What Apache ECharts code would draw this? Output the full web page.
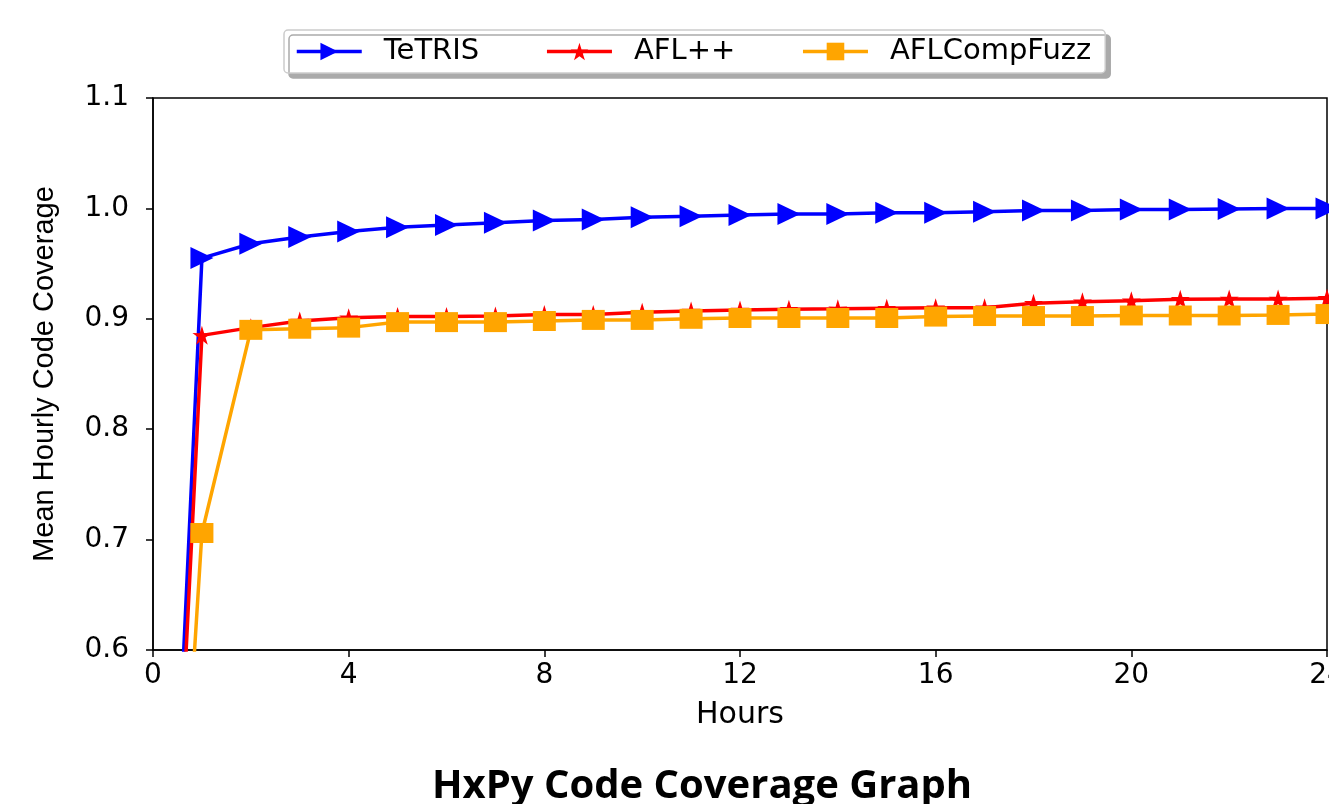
<!DOCTYPE html>
<html>
<head>
<meta charset="utf-8">
<script src="https://cdn.jsdelivr.net/npm/echarts@6/dist/echarts.min.js"></script>
<style>
    html, body { margin: 0; padding: 0; background: #fff; }
    #main { width: 1329px; height: 804px; }
</style>
</head>
<body>
<div id="main"></div>
<script>
// data
var hours = [0, 1, 2, 3, 4, 5, 6, 7, 8, 9, 10, 11, 12, 13, 14, 15, 16, 17, 18, 19, 20, 21, 22, 23, 24];
var tetris = [0, 0.955, 0.968, 0.974, 0.979, 0.983, 0.985, 0.987, 0.989, 0.990, 0.992, 0.993, 0.994,
    0.995, 0.995, 0.996, 0.996, 0.997, 0.998, 0.998, 0.999, 0.999, 0.9995, 0.9998, 1.0];
var aflpp = [0, 0.885, 0.892, 0.898, 0.901, 0.902, 0.902, 0.9025, 0.904, 0.904, 0.906, 0.907, 0.908,
    0.9086, 0.909, 0.9095, 0.910, 0.910, 0.914, 0.9155, 0.9164, 0.9177, 0.918, 0.918, 0.9186];
var aflcomp = [0, 0.706, 0.890, 0.891, 0.892, 0.897, 0.897, 0.897, 0.898, 0.899, 0.899, 0.900, 0.9007,
    0.9007, 0.9007, 0.9007, 0.902, 0.9025, 0.9025, 0.9025, 0.903, 0.903, 0.903, 0.9035, 0.9043];
var seriesNames = ['TeTRIS', 'AFL++', 'AFLCompFuzz'];
var xTicks = [0, 4, 8, 12, 16, 20, 24];
var yTicks = [0.6, 0.7, 0.8, 0.9, 1.0, 1.1];

var triangle = 'path://M0,0L10,5L0,10Z';
var star = 'path://M50,0L61.17,34.63L97.55,34.55L68.07,55.87L79.39,90.45L50,69L20.61,90.45L31.93,55.87L2.45,34.55L38.83,34.63Z';

function pairs(ys) {
    return hours.map(function (h, i) { return [h, ys[i]]; });
}

var chartDom = document.getElementById('main');
var myChart = echarts.init(chartDom);
var option;

var tickFont = 'DejaVu Sans';

option = {
    animation: false,
    backgroundColor: '#fff',
    title: {
        text: 'HxPy Code Coverage Graph',
        left: 432,
        top: 767,
        padding: 0,
        textStyle: { fontFamily: 'Open Sans', fontWeight: 'bold', fontSize: 40, color: '#000' }
    },
    legend: {
        data: seriesNames,
        left: 284,
        top: 30,
        padding: [7, 14, 7, 11],
        itemWidth: 65,
        itemHeight: 22,
        itemGap: 66,
        backgroundColor: '#fff',
        borderColor: '#cccccc',
        borderWidth: 1.5,
        borderRadius: 4,
        shadowColor: '#aaaaaa',
        shadowBlur: 0,
        shadowOffsetX: 5,
        shadowOffsetY: 5,
        lineStyle: { width: 3.5 },
        textStyle: { fontFamily: tickFont, fontSize: 29, color: '#000', padding: [0, 0, 0, 17] }
    },
    grid: {
        left: 153,
        right: 2,
        top: 98,
        bottom: 154,
        outerBoundsMode: 'none',
        show: true,
        borderColor: '#000',
        borderWidth: 1.5
    },
    xAxis: {
        type: 'value',
        min: xTicks[0],
        max: xTicks[xTicks.length - 1],
        interval: 4,
        name: 'Hours',
        nameLocation: 'middle',
        nameGap: 50,
        nameTextStyle: { fontFamily: tickFont, fontSize: 30, color: '#000' },
        axisLine: { lineStyle: { color: '#000', width: 1.5 } },
        axisTick: { show: true, inside: false, length: 7, lineStyle: { color: '#000', width: 1.5 } },
        axisLabel: { fontFamily: tickFont, fontSize: 28, color: '#000', margin: 12 },
        splitLine: { show: false }
    },
    yAxis: {
        type: 'value',
        min: yTicks[0],
        max: yTicks[yTicks.length - 1],
        interval: 0.1,
        name: 'Mean Hourly Code Coverage',
        nameLocation: 'middle',
        nameGap: 94,
        nameTextStyle: { fontFamily: 'Liberation Sans', fontSize: 29, color: '#000' },
        axisLine: { show: true, lineStyle: { color: '#000', width: 1.5 } },
        axisTick: { show: true, inside: false, length: 7, lineStyle: { color: '#000', width: 1.5 } },
        axisLabel: {
            fontFamily: tickFont, fontSize: 28, color: '#000', margin: 24,
            formatter: function (v) { return v.toFixed(1); }
        },
        splitLine: { show: false }
    },
    series: [
        {
            name: seriesNames[0],
            type: 'line',
            data: pairs(tetris),
            color: '#0000ff',
            symbol: triangle,
            symbolSize: [23, 22],
            showAllSymbol: true,
            clip: true,
            lineStyle: { width: 3.5, color: '#0000ff' },
            itemStyle: { color: '#0000ff' }
        },
        {
            name: seriesNames[1],
            type: 'line',
            data: pairs(aflpp),
            color: '#ff0000',
            symbol: star,
            symbolSize: 19,
            showAllSymbol: true,
            clip: true,
            lineStyle: { width: 3.5, color: '#ff0000' },
            itemStyle: { color: '#ff0000' }
        },
        {
            name: seriesNames[2],
            type: 'line',
            data: pairs(aflcomp),
            color: '#ffa500',
            symbol: 'rect',
            symbolSize: [23, 20],
            showAllSymbol: true,
            clip: true,
            lineStyle: { width: 3.5, color: '#ffa500' },
            itemStyle: { color: '#ffa500' }
        }
    ]
};

option && myChart.setOption(option);
</script>
</body>
</html>
